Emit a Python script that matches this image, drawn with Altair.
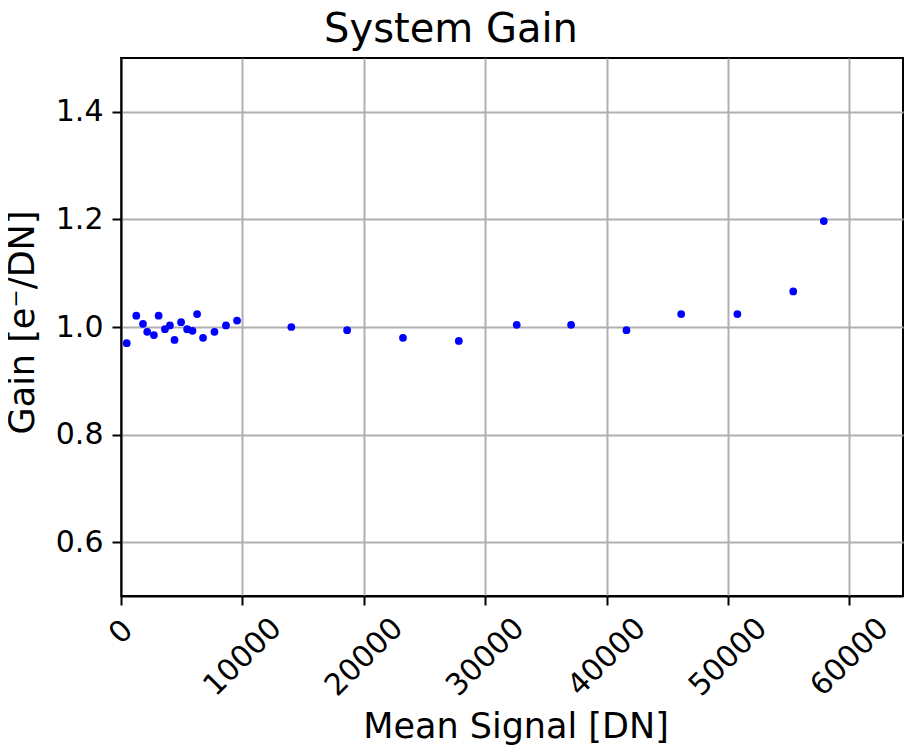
import altair as alt
import pandas as pd

# Data
mean_signal = [470, 1260, 1810, 2160, 2710, 3100, 3620, 4030, 4410, 4950,
               5450, 5890, 6270, 6760, 7700, 8650, 9560,
               14030, 18630, 23230, 27830, 32600, 37080, 41640,
               46150, 50780, 55380, 57900]
gain = [0.970, 1.021, 1.006, 0.991, 0.985, 1.021, 0.996, 1.003, 0.976, 1.009,
        0.996, 0.993, 1.024, 0.980, 0.991, 1.003, 1.012,
        1.000, 0.994, 0.980, 0.974, 1.004, 1.004, 0.994,
        1.024, 1.024, 1.066, 1.197]

x_ticks = [0, 10000, 20000, 30000, 40000, 50000, 60000]
y_ticks = [0.6, 0.8, 1.0, 1.2, 1.4]

df = pd.DataFrame({"signal": mean_signal, "gain": gain})

W, H = 782, 538
x_max = 65000 * W / 789  # keep the reference's pixels per unit

x_axis = alt.Axis(
    values=x_ticks, format="d", grid=True,
    labelAngle=-45, labelAlign="center", labelBaseline="middle",
    labelPadding={"condition": {"test": "datum.value == 0", "value": 27}, "value": 52},
    labelFlush=False, labelOverlap=False, labelBound=False,
    labelFontSize=30,
    title="Mean Signal [DN]", titleFontSize=35,
    titleX=394.5, titleY=141, titleAlign="center", titleBaseline="alphabetic",
)
y_axis = alt.Axis(
    values=y_ticks, format=".1f", grid=True,
    labelFlush=False, labelOverlap=False, labelBound=False,
    labelFontSize=30, labelPadding=9,
    title="Gain [e\u207B/DN]", titleFontSize=35,
    titleAngle=-90, titleX=-98.5, titleY=264, titleAlign="center", titleBaseline="middle",
)

chart = alt.Chart(df).mark_circle(size=60, color="#0000ff", opacity=1).encode(
    x=alt.X("signal:Q", scale=alt.Scale(domain=[0, x_max], nice=False, zero=False), axis=x_axis),
    y=alt.Y("gain:Q", scale=alt.Scale(domain=[0.5, 1.5], nice=False, zero=False), axis=y_axis),
).properties(
    width=W, height=H,
    title=alt.TitleParams("System Gain", fontSize=40, fontWeight="normal", color="black",
                          anchor="middle", baseline="alphabetic", offset=-24, dx=-61),
    autosize=alt.AutoSizeParams(type="none"),
    padding={"left": 113, "top": 50, "right": 1, "bottom": 152},
).configure(
    font="DejaVu Sans",
).configure_view(
    stroke="black", strokeWidth=2,
).configure_axis(
    domainColor="black", domainWidth=2,
    tickColor="black", tickWidth=2, tickSize=9,
    gridColor="#b0b0b0", gridWidth=2,
    labelColor="black", titleColor="black",
    labelFont="DejaVu Sans", titleFont="DejaVu Sans",
    titleFontWeight="normal",
)

chart.save("out.html", embed_options={"renderer": "svg", "actions": False})
